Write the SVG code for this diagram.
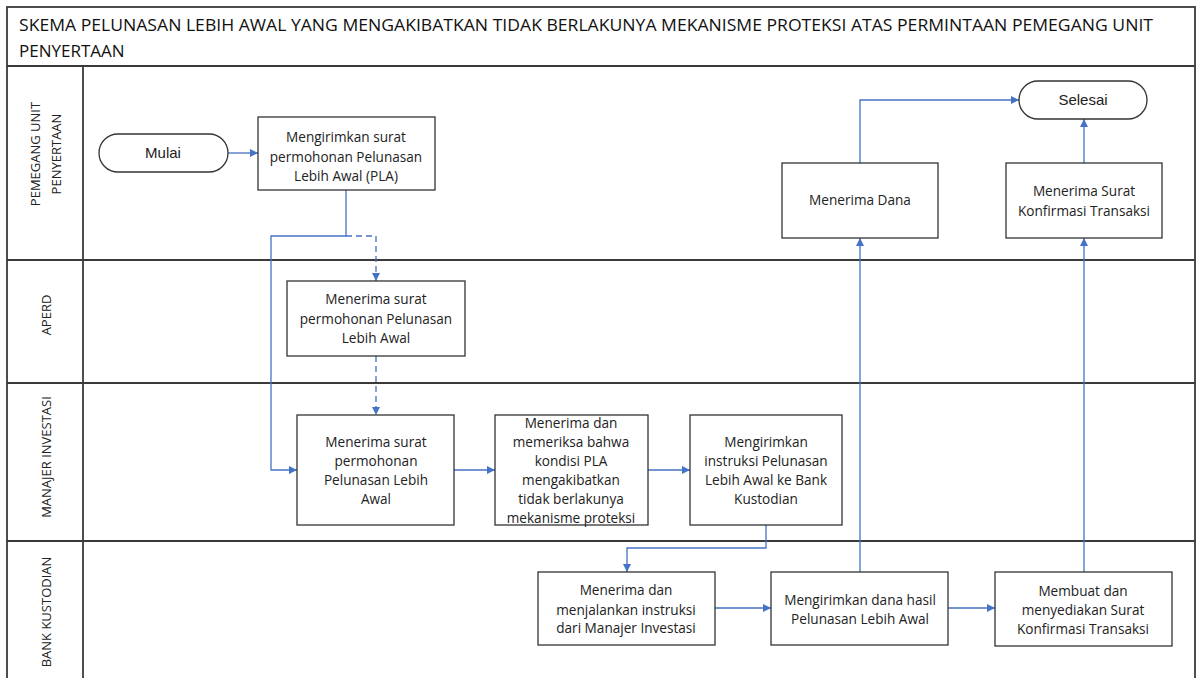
<svg xmlns="http://www.w3.org/2000/svg" width="1196" height="678" viewBox="0 0 1196 678">
<defs>
<marker id="ah" viewBox="0 0 10 10" refX="10" refY="5" markerWidth="8" markerHeight="8" markerUnits="userSpaceOnUse" orient="auto">
<path d="M0,0 L10,5 L0,10 z" fill="#4472C4"/>
</marker>
<style>
.frame{fill:none;stroke:#3a3a3a;stroke-width:1.8}
.box{fill:#fff;stroke:#333;stroke-width:1.3}
.term{fill:#fff;stroke:#333;stroke-width:1.3}
.t{font-family:"Open Sans","Noto Sans",sans-serif;font-size:13.6px;fill:#222;text-anchor:middle}
.tt{font-family:"Liberation Sans",Arial,sans-serif;font-size:15px;fill:#222;text-anchor:middle}
.lane{font-family:"Open Sans","Noto Sans",sans-serif;font-size:13px;fill:#222;text-anchor:middle}
.title{font-family:"Open Sans","Noto Sans",sans-serif;font-size:17px;fill:#111}
.c{fill:none;stroke:#4472C4;stroke-width:1.3}
.d{fill:none;stroke:#4472C4;stroke-width:1.3;stroke-dasharray:6,4}
</style>
</defs>
<rect x="0" y="0" width="1196" height="678" fill="#fff"/>
<g id="frame">
<rect class="frame" x="7" y="7" width="1188" height="680"/>
<line class="frame" x1="7" y1="66" x2="1195" y2="66"/>
<line class="frame" x1="7" y1="260" x2="1195" y2="260"/>
<line class="frame" x1="7" y1="383" x2="1195" y2="383"/>
<line class="frame" x1="7" y1="541" x2="1195" y2="541"/>
<line class="frame" x1="83" y1="66" x2="83" y2="678"/>
<text class="title" x="19" y="31" textLength="1134" lengthAdjust="spacingAndGlyphs">SKEMA PELUNASAN LEBIH AWAL YANG MENGAKIBATKAN TIDAK BERLAKUNYA MEKANISME PROTEKSI ATAS PERMINTAAN PEMEGANG UNIT</text>
<text class="title" x="19" y="57">PENYERTAAN</text>
<text class="lane" transform="translate(40,154) rotate(-90)">PEMEGANG UNIT</text>
<text class="lane" transform="translate(61,154) rotate(-90)">PENYERTAAN</text>
<text class="lane" transform="translate(51,315) rotate(-90)">APERD</text>
<text class="lane" transform="translate(51,457) rotate(-90)">MANAJER INVESTASI</text>
<text class="lane" transform="translate(51,612) rotate(-90)">BANK KUSTODIAN</text>
</g>
<g id="connectors">
<path class="c" d="M228,153 L258,153" marker-end="url(#ah)"/>
<path class="c" d="M346,190 L346,236 L271,236 L271,470 L297,470" marker-end="url(#ah)"/>
<path class="d" d="M346,236 L376,236 L376,281" marker-end="url(#ah)"/>
<path class="d" d="M376,356 L376,415" marker-end="url(#ah)"/>
<path class="c" d="M454,470 L495,470" marker-end="url(#ah)"/>
<path class="c" d="M648,470 L690,470" marker-end="url(#ah)"/>
<path class="c" d="M766,525 L766,548 L627,548 L627,572" marker-end="url(#ah)"/>
<path class="c" d="M715,608 L771,608" marker-end="url(#ah)"/>
<path class="c" d="M948,608 L995,608" marker-end="url(#ah)"/>
<path class="c" d="M860,572 L860,238" marker-end="url(#ah)"/>
<path class="c" d="M1084,572 L1084,238" marker-end="url(#ah)"/>
<path class="c" d="M860,163 L860,100 L1019,100" marker-end="url(#ah)"/>
<path class="c" d="M1084,163 L1084,119" marker-end="url(#ah)"/>
</g>
<g id="mulai">
<rect class="term" x="99" y="134" width="129" height="38" rx="19"/>
<text class="tt" x="163" y="158">Mulai</text>
</g>
<g id="selesai">
<rect class="term" x="1019" y="81" width="128" height="38" rx="19"/>
<text class="tt" x="1083" y="105">Selesai</text>
</g>
<g id="kirim-pla">
<rect class="box" x="258" y="117" width="177" height="73"/>
<text class="t" x="346" y="142">Mengirimkan surat</text>
<text class="t" x="346" y="162">permohonan Pelunasan</text>
<text class="t" x="346" y="181">Lebih Awal (PLA)</text>
</g>
<g id="aperd-terima">
<rect class="box" x="287" y="281" width="178" height="75"/>
<text class="t" x="376" y="304">Menerima surat</text>
<text class="t" x="376" y="324">permohonan Pelunasan</text>
<text class="t" x="376" y="343">Lebih Awal</text>
</g>
<g id="mi-terima">
<rect class="box" x="297" y="415" width="157" height="110"/>
<text class="t" x="376" y="447">Menerima surat</text>
<text class="t" x="376" y="466">permohonan</text>
<text class="t" x="376" y="485">Pelunasan Lebih</text>
<text class="t" x="376" y="504">Awal</text>
</g>
<g id="mi-periksa">
<rect class="box" x="495" y="415" width="153" height="110"/>
<text class="t" x="571" y="428">Menerima dan</text>
<text class="t" x="571" y="447">memeriksa bahwa</text>
<text class="t" x="571" y="466">kondisi PLA</text>
<text class="t" x="571" y="485">mengakibatkan</text>
<text class="t" x="571" y="504">tidak berlakunya</text>
<text class="t" x="571" y="523">mekanisme proteksi</text>
</g>
<g id="mi-kirim">
<rect class="box" x="690" y="415" width="152" height="110"/>
<text class="t" x="766" y="447">Mengirimkan</text>
<text class="t" x="766" y="466">instruksi Pelunasan</text>
<text class="t" x="766" y="485">Lebih Awal ke Bank</text>
<text class="t" x="766" y="504">Kustodian</text>
</g>
<g id="bk-jalankan">
<rect class="box" x="538" y="572" width="177" height="73"/>
<text class="t" x="626" y="595">Menerima dan</text>
<text class="t" x="626" y="615">menjalankan instruksi</text>
<text class="t" x="626" y="633">dari Manajer Investasi</text>
</g>
<g id="bk-dana">
<rect class="box" x="771" y="572" width="177" height="73"/>
<text class="t" x="860" y="605">Mengirimkan dana hasil</text>
<text class="t" x="860" y="624">Pelunasan Lebih Awal</text>
</g>
<g id="bk-surat">
<rect class="box" x="995" y="572" width="177" height="74"/>
<text class="t" x="1083" y="596">Membuat dan</text>
<text class="t" x="1083" y="615">menyediakan Surat</text>
<text class="t" x="1083" y="634">Konfirmasi Transaksi</text>
</g>
<g id="pu-dana">
<rect class="box" x="782" y="163" width="156" height="75"/>
<text class="t" x="860" y="205">Menerima Dana</text>
</g>
<g id="pu-surat">
<rect class="box" x="1006" y="163" width="156" height="75"/>
<text class="t" x="1084" y="196">Menerima Surat</text>
<text class="t" x="1084" y="216">Konfirmasi Transaksi</text>
</g>
</svg>
